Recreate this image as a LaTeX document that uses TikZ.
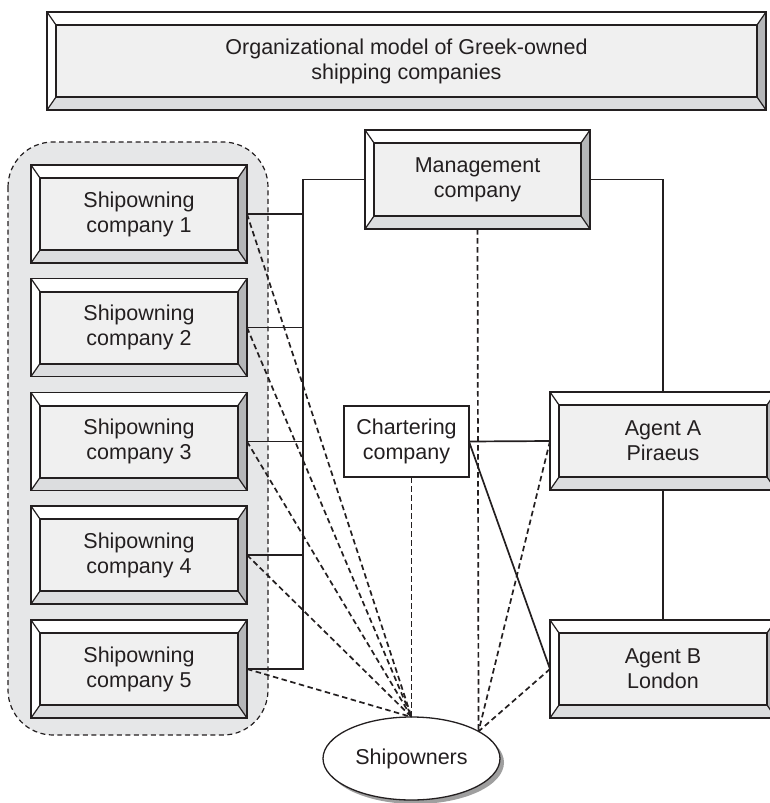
\documentclass[tikz,border=0pt]{standalone}
\usepackage{fontspec}
\setmainfont{Liberation Sans}
\usetikzlibrary{calc,shapes.geometric,shadows}
\definecolor{ink}{HTML}{231F20}
\definecolor{face}{HTML}{F0F0F0}
\definecolor{bevlight}{HTML}{DCDDDF}
\definecolor{bevdark}{HTML}{B5B6B8}
\definecolor{groupc}{HTML}{E6E7E8}
\newcommand\bevelit[1]{%
  \fill[white] (#1.north west) -- (#1.north east) -- ($(#1.north east)+(-9,13)$) -- ($(#1.north west)+(9,13)$) -- cycle;
  \fill[white] (#1.north west) -- ($(#1.north west)+(9,13)$) -- ($(#1.south west)+(9,-13)$) -- (#1.south west) -- cycle;
  \fill[bevdark] (#1.north east) -- (#1.south east) -- ($(#1.south east)+(-9,-13)$) -- ($(#1.north east)+(-9,13)$) -- cycle;
  \fill[bevlight] (#1.south west) -- (#1.south east) -- ($(#1.south east)+(-9,-13)$) -- ($(#1.south west)+(9,-13)$) -- cycle;
  \draw[ink,line width=1.2pt] (#1.north west) -- +(9,13) (#1.north east) -- +(-9,13) (#1.south west) -- +(9,-13) (#1.south east) -- +(-9,-13);
  \draw[ink,line width=2pt] ($(#1.north west)+(9,13)$) rectangle ($(#1.south east)+(-9,-13)$);
  \draw[ink,line width=1.6pt] (#1.north west) rectangle (#1.south east);
}
\begin{document}
\begin{tikzpicture}[x=1pt,y=-1pt,
  txt/.style={font=\fontsize{21.5}{25}\selectfont, text=ink, align=center},
  bevbox/.style={txt, fill=face, inner sep=0pt, outer sep=0pt},
  shipbox/.style={bevbox, minimum width=216pt, minimum height=98pt},
  agentbox/.style={bevbox, minimum width=226pt, minimum height=98pt},
  conn/.style={draw=ink, line width=1.7pt},
  dconn/.style={conn, dash pattern=on 5.5pt off 3.5pt}]
\useasboundingbox (0,0) rectangle (770,803);
% group background
\draw[draw=ink, line width=1.2pt, dash pattern=on 5pt off 3.5pt, fill=groupc, rounded corners=45pt] (8,142) rectangle (268,735);
% nodes
\node[bevbox, minimum width=719pt, minimum height=98pt] (title) at (406.5,61) {Organizational model of Greek-owned\\shipping companies};
\node[shipbox] (ship1) at (139,214) {Shipowning\\company 1};
\node[shipbox] (ship2) at (139,327.5) {Shipowning\\company 2};
\node[shipbox] (ship3) at (139,441.5) {Shipowning\\company 3};
\node[shipbox] (ship4) at (139,555) {Shipowning\\company 4};
\node[shipbox] (ship5) at (139,669) {Shipowning\\company 5};
\node[bevbox, minimum width=225pt, minimum height=99pt] (management) at (477.5,179.5) {Management\\company};
\node[agentbox] (agentA) at (663,441) {Agent A\\Piraeus};
\node[agentbox] (agentB) at (663,669) {Agent B\\London};
\node[txt, draw=ink, line width=1.3pt, fill=white, inner sep=0pt, outer sep=0pt, minimum width=125pt, minimum height=71pt] (chartering) at (406.5,441.5) {Chartering\\company};
\node[txt, ellipse, draw=ink, line width=1.3pt, fill=white, inner sep=0pt, outer sep=0pt, minimum width=177pt, minimum height=83pt,
  drop shadow={shadow xshift=4pt, shadow yshift=-4pt, fill=gray!75, opacity=1}] (shipowners) at (411.5,758.5) {Shipowners};
\foreach \n in {title,ship1,ship2,ship3,ship4,ship5,management,agentA,agentB} {\bevelit{\n}}
% solid connectors
\coordinate (bus) at (303,0);
\draw[conn] (management.west) -- (management.west -| bus) -- (ship5.east -| bus) -- (ship5.east);
\foreach \k in {1,2,3,4} {\draw[conn] (ship\k.east) -- (ship\k.east -| bus);}
\draw[conn] (management.east) -| (agentA.north);
\draw[conn] (agentA.south) -- (agentB.north);
\draw[conn] (chartering.east) -- (agentA.west);
\draw[conn] (chartering.east) -- (agentB.west);
% dashed connectors
\foreach \k in {1,2,3,4,5} {\draw[dconn] (ship\k.east) -- (shipowners.north);}
\draw[dconn] (chartering.south -| shipowners.north) -- (shipowners.north);
\coordinate (sr) at (shipowners.22);
\draw[dconn] (management.south) -- (sr);
\draw[dconn] (agentA.west) -- (sr);
\draw[dconn] (agentB.west) -- (sr);
\end{tikzpicture}
\end{document}
